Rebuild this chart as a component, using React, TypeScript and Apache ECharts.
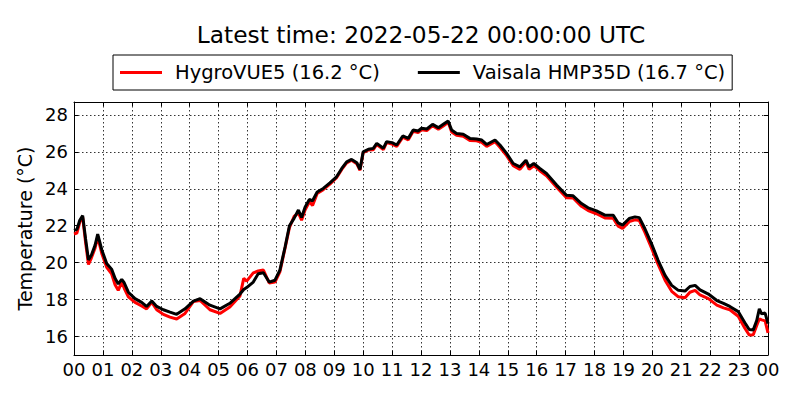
import React, { useEffect, useRef } from "react";
import * as echarts from "echarts";

const TITLE = "Latest time: 2022-05-22 00:00:00 UTC";
const SERIES_NAMES = ["HygroVUE5 (16.2 °C)", "Vaisala HMP35D (16.7 °C)"];
const Y_LABEL = "Temperature (°C)";
const Y_TICKS = [16, 18, 20, 22, 24, 26, 28];

const hours = [
  0.0, 0.1, 0.2, 0.3, 0.4, 0.5, 0.6, 0.73, 0.82, 0.96, 1.13, 1.3, 1.42, 1.53, 1.65, 1.74, 1.88,
  2.11, 2.34, 2.51, 2.69, 2.86, 3.09, 3.32, 3.55, 3.84, 4.13, 4.36, 4.7, 5.05, 5.39, 5.74, 5.87,
  5.97, 6.2, 6.37, 6.55, 6.75, 6.95, 7.12, 7.3, 7.45, 7.61, 7.76, 7.87, 7.99, 8.14, 8.25, 8.41,
  8.62, 8.85, 9.08, 9.26, 9.43, 9.6, 9.78, 9.89, 10.0, 10.18, 10.35, 10.47, 10.7, 10.81, 11.0,
  11.16, 11.37, 11.56, 11.73, 11.9, 12.02, 12.2, 12.4, 12.6, 12.77, 12.94, 13.06, 13.23, 13.46,
  13.69, 13.92, 14.1, 14.27, 14.56, 14.73, 14.96, 15.19, 15.42, 15.63, 15.74, 15.9, 16.11, 16.34,
  16.69, 17.03, 17.26, 17.55, 17.78, 18.07, 18.36, 18.65, 18.82, 18.97, 19.2, 19.4, 19.55, 19.74,
  19.97, 20.2, 20.44, 20.67, 20.9, 21.13, 21.3, 21.48, 21.65, 21.94, 22.23, 22.46, 22.68, 22.97,
  23.2, 23.35, 23.49, 23.61, 23.7, 23.78, 23.9, 24.0,
];

const hmp35d = [
  21.75, 21.8, 22.3, 22.55, 21.3, 20.15, 20.4, 20.95, 21.55, 20.7, 19.95, 19.65, 19.15, 18.85, 19.1, 18.9, 18.4,
  18.05, 17.85, 17.63, 17.92, 17.63, 17.45, 17.32, 17.2, 17.5, 17.92, 18.05, 17.7, 17.5, 17.8, 18.3, 18.55,
  18.65, 18.95, 19.4, 19.45, 18.95, 19.05, 19.6, 20.85, 22.0, 22.4, 22.85, 22.45, 23.0, 23.42, 23.35, 23.83,
  24.02, 24.32, 24.65, 25.1, 25.46, 25.59, 25.41, 25.05, 26.0, 26.14, 26.19, 26.46, 26.2, 26.55, 26.5,
  26.37, 26.86, 26.73, 27.18, 27.13, 27.28, 27.24, 27.49, 27.31, 27.49, 27.67, 27.18, 27.0, 26.95,
  26.73, 26.7, 26.64, 26.4, 26.64, 26.37, 25.92, 25.37, 25.19, 25.55, 25.19, 25.37, 25.1, 24.83,
  24.2, 23.65, 23.62, 23.2, 22.97, 22.8, 22.57, 22.57, 22.15, 22.03, 22.39, 22.48, 22.44, 21.85,
  21.03, 20.13, 19.31, 18.77, 18.5, 18.46, 18.71, 18.77, 18.53, 18.3, 17.95, 17.8, 17.63, 17.35,
  16.75, 16.38, 16.36, 16.87, 17.5, 17.23, 17.27, 16.7,
];

const hygrovue5 = [
  21.55, 21.6, 22.2, 22.45, 21.1, 19.9, 20.25, 20.8, 21.4, 20.5, 19.75, 19.4, 18.8, 18.5, 18.95, 18.6, 18.15,
  17.85, 17.65, 17.5, 17.85, 17.45, 17.2, 17.05, 16.95, 17.25, 17.9, 17.95, 17.45, 17.25, 17.6, 18.2, 19.15,
  19.0, 19.45, 19.55, 19.6, 18.9, 18.95, 19.5, 20.8, 21.9, 22.5, 22.7, 22.3, 22.85, 23.3, 23.1, 23.75,
  23.95, 24.25, 24.6, 25.05, 25.4, 25.55, 25.35, 25.0, 25.95, 26.1, 26.12, 26.4, 26.12, 26.5, 26.42,
  26.3, 26.8, 26.65, 27.12, 27.05, 27.2, 27.15, 27.42, 27.22, 27.4, 27.6, 27.08, 26.9, 26.85,
  26.62, 26.6, 26.52, 26.3, 26.55, 26.25, 25.8, 25.25, 25.05, 25.45, 25.05, 25.25, 24.98, 24.7,
  24.08, 23.52, 23.5, 23.05, 22.82, 22.65, 22.42, 22.4, 21.98, 21.85, 22.22, 22.32, 22.28, 21.65,
  20.8, 19.9, 19.05, 18.45, 18.15, 18.1, 18.4, 18.5, 18.25, 18.05, 17.7, 17.55, 17.45, 17.1,
  16.45, 16.08, 16.1, 16.6, 16.95, 16.9, 16.85, 16.2,
];

const FONT = "DejaVu Sans";

export default function App() {
  const ref = useRef<HTMLDivElement>(null);

  useEffect(() => {
    document.body.style.margin = "0";
    const chart = echarts.init(ref.current!, null, { renderer: "svg" });

    const hourFmt = (v: number) => String(Math.round(v) % 24).padStart(2, "0");

    const axisCommonX = {
      type: "value" as const,
      min: 0,
      max: 24,
      interval: 1,
      axisLine: { show: true, onZero: false, lineStyle: { color: "#000", width: 1 } },
      axisTick: { show: true, inside: true, length: 4, lineStyle: { color: "#000", width: 1 } },
    };
    const yTickCfg = {
      axisLine: { show: true, onZero: false, lineStyle: { color: "#000", width: 1 } },
      axisTick: { show: true, inside: true, length: 4, customValues: Y_TICKS, lineStyle: { color: "#000", width: 1 } },
    };

    chart.setOption({
      animation: false,
      backgroundColor: "#fff",
      textStyle: { fontFamily: FONT },
      title: {
        text: TITLE,
        left: 416,
        textAlign: "center",
        top: 18,
        textStyle: { fontFamily: FONT, fontSize: 23.3, fontWeight: "normal", color: "#000" },
      },
      legend: {
        left: 113,
        top: 55,
        data: SERIES_NAMES.map((n) => ({ name: n, icon: "rect" })),
        itemWidth: 42,
        itemHeight: 3,
        itemGap: 38,
        padding: [7, 7, 7, 7],
        borderColor: "#000",
        borderWidth: 1,
        borderRadius: 0,
        backgroundColor: "#fff",
        textStyle: { fontFamily: FONT, fontSize: 19.5, color: "#000", lineHeight: 21, padding: [0, 0, 0, 8] },
      },
      grid: { left: 74, right: 32, top: 102, bottom: 45, containLabel: false },
      xAxis: [
        {
          ...axisCommonX,
          position: "bottom",
          axisLabel: { formatter: hourFmt, fontFamily: FONT, fontSize: 18, color: "#000", margin: 5 },
          splitLine: { show: true, lineStyle: { color: "#000", width: 0.8, type: [1.5, 2.5] } },
        },
        {
          ...axisCommonX,
          position: "top",
          axisLabel: { show: false },
          splitLine: { show: false },
        },
      ],
      yAxis: [
        {
          type: "value",
          min: 15,
          max: 28.7,
          position: "left",
          ...yTickCfg,
          axisLabel: { customValues: Y_TICKS, fontFamily: FONT, fontSize: 18, color: "#000", margin: 6 },
          splitLine: { show: true, lineStyle: { color: "#000", width: 0.8, type: [1.5, 2.5] } },
          name: Y_LABEL,
          nameLocation: "middle",
          nameGap: 35,
          nameTextStyle: { fontFamily: FONT, fontSize: 19, color: "#000" },
        },
        {
          type: "value",
          min: 15,
          max: 28.7,
          position: "right",
          ...yTickCfg,
          axisLabel: { show: false },
          splitLine: { show: false },
        },
      ],
      series: [
        {
          name: SERIES_NAMES[0],
          type: "line",
          data: hours.map((h, i) => [h, hygrovue5[i]]),
          showSymbol: false,
          symbol: "none",
          lineStyle: { color: "#ff0000", width: 3 },
          itemStyle: { color: "#ff0000" },
          xAxisIndex: 0,
          yAxisIndex: 0,
        },
        {
          name: SERIES_NAMES[1],
          type: "line",
          data: hours.map((h, i) => [h, hmp35d[i]]),
          showSymbol: false,
          symbol: "none",
          lineStyle: { color: "#000000", width: 3 },
          itemStyle: { color: "#000000" },
          xAxisIndex: 0,
          yAxisIndex: 0,
        },
      ],
    });

    return () => chart.dispose();
  }, []);

  return (
    <div
      ref={ref}
      style={{ position: "fixed", left: 0, top: 0, width: 800, height: 400, background: "#fff" }}
    />
  );
}
